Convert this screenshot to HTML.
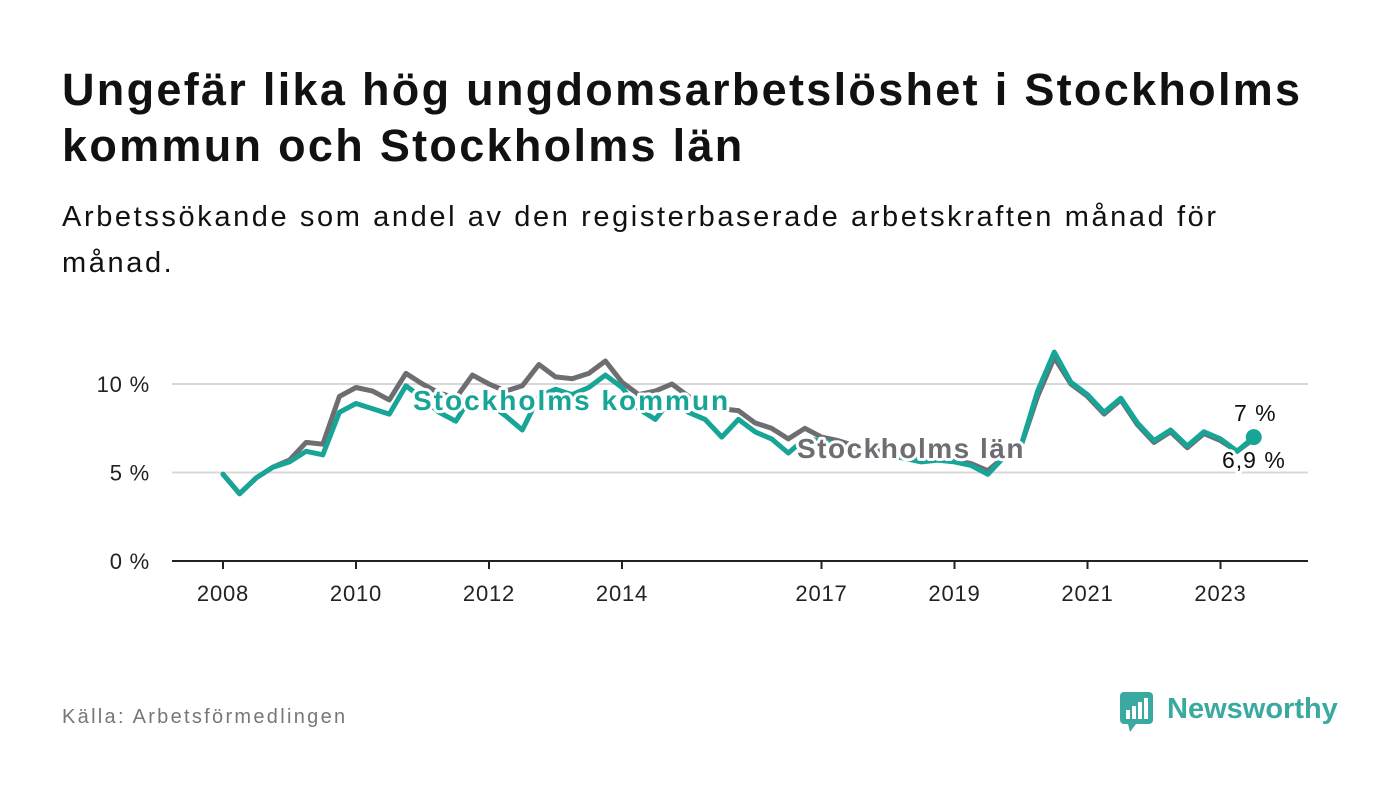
<!DOCTYPE html>
<html><head><meta charset="utf-8"><style>
body{margin:0;background:#fff;width:1400px;height:794px;overflow:hidden;font-family:"Liberation Sans",sans-serif;}
h1{position:absolute;left:62px;top:62px;margin:0;font-size:45px;line-height:56px;font-weight:bold;color:#111;letter-spacing:2.3px;}
p.sub{position:absolute;left:62px;top:194px;margin:0;font-size:29px;line-height:46px;color:#111;letter-spacing:2.6px;}
.src{position:absolute;left:62px;top:706px;font-size:20px;color:#777;letter-spacing:2.3px;}
</style></head><body>
<h1>Ungefär lika hög ungdomsarbetslöshet i Stockholms<br>kommun och Stockholms län</h1>
<p class="sub">Arbetssökande som andel av den registerbaserade arbetskraften månad för<br>månad.</p>
<svg id="chart" width="1400" height="794" style="position:absolute;left:0;top:0"></svg>
<div class="src">Källa: Arbetsförmedlingen</div>
<svg style="position:absolute;left:1118px;top:690px" width="230" height="46">
<rect x="2" y="2" width="33" height="32" rx="4" fill="#3aa9a0"/>
<polygon points="10,34 18,34 12,42" fill="#3aa9a0"/>
<rect x="8" y="20" width="4" height="9" fill="#fff"/><rect x="14" y="16" width="4" height="13" fill="#fff"/><rect x="20" y="12" width="4" height="17" fill="#fff"/><rect x="26" y="8" width="4" height="21" fill="#fff"/>
<text x="49" y="28" font-size="29" font-weight="bold" fill="#3aa9a0" font-family="Liberation Sans, sans-serif">Newsworthy</text>
</svg>
<script>
const years=[2008,2010,2012,2014,2017,2019,2021,2023];
const yTicks=[0,5,10];
const kommun=[4.9,3.8,4.7,5.3, 5.6,6.2,6.0,8.4, 8.9,8.6,8.3,9.9, 9.2,8.4,7.9,9.4, 8.9,8.2,7.4,9.3, 9.7,9.4,9.8,10.5, 9.8,8.6,8.0,9.2, 8.4,8.0,7.0,8.0, 7.3,6.9,6.1,6.9, 6.8,6.6,6.3,6.1, 6.0,5.8,5.6,5.7, 5.6,5.4,4.9,5.9, 6.5,9.6,11.8,10.1, 9.4,8.4,9.2,7.8, 6.8,7.4,6.5,7.3, 6.9,6.2,7.0];
const lan=[4.9,3.8,4.7,5.3, 5.7,6.7,6.6,9.3, 9.8,9.6,9.1,10.6, 10.0,9.5,9.2,10.5, 10.0,9.6,9.9,11.1, 10.4,10.3,10.6,11.3, 10.1,9.4,9.6,10.0, 9.3,8.8,8.6,8.5, 7.8,7.5,6.9,7.5, 7.0,6.8,6.5,6.3, 6.1,5.9,5.7,5.8, 5.7,5.5,5.1,5.9, 6.5,9.3,11.5,10.0, 9.3,8.3,9.1,7.7, 6.7,7.3,6.4,7.2, 6.8,6.2,6.9];
const startYear=2008, step=0.25;
const X=t=>223+(t-2008)*66.5;
const Y=v=>561-v*17.7;
const svg=document.getElementById('chart');
const NS='http://www.w3.org/2000/svg';
function mk(tag,attrs,parent){const e=document.createElementNS(NS,tag);for(const k in attrs)e.setAttribute(k,attrs[k]);(parent||svg).appendChild(e);return e;}
yTicks.forEach(v=>{
 if(v>0){const g=mk('line',{x1:172,x2:1308,y1:Y(v),y2:Y(v),stroke:'#d8d8d8','stroke-width':2});
 
 }
 const t=mk('text',{x:150,y:Y(v)+8,'text-anchor':'end','font-size':22,fill:'#222','letter-spacing':0.8});t.textContent=v+' %';
 
 
});
const ax=mk('line',{x1:172,x2:1308,y1:561,y2:561,stroke:'#222','stroke-width':2});


years.forEach(y=>{
 const tk=mk('line',{x1:X(y),x2:X(y),y1:561,y2:569,stroke:'#222','stroke-width':2});
 
 
 const t=mk('text',{x:X(y),y:601,'text-anchor':'middle','font-size':22,fill:'#222','letter-spacing':0.8});t.textContent=y;
 
 
});
function line(data,color,name){
 const d=data.map((v,i)=>(i?'L':'M')+X(startYear+i*step).toFixed(1)+','+Y(v).toFixed(1)).join('');
 const p=mk('path',{d:d,fill:'none',stroke:color,'stroke-width':5,'stroke-linejoin':'round','stroke-linecap':'round'});
 
 
}
line(lan,'#6e6d72','line-stockholms-lan');
line(kommun,'#16a597','line-stockholms-kommun');
const li=kommun.length-1, lx=X(startYear+li*step);
const dot=mk('circle',{cx:lx,cy:Y(kommun[li]),r:8,fill:'#16a597'});


function lbl(x,y,txt,col,sz,w,ls,name){
 const t=mk('text',{x:x,y:y,'font-size':sz,'font-weight':w,fill:col,stroke:'#fff','stroke-width':6,'paint-order':'stroke','stroke-linejoin':'round','letter-spacing':ls});
 t.textContent=txt;
 
 
}
lbl(413,410,'Stockholms kommun','#16a597',28,'bold',2,'label-stockholms-kommun');
lbl(797,458,'Stockholms län','#6e6d72',28,'bold',1.5,'label-stockholms-lan');
lbl(1234,421,'7 %','#111',23,'normal',1,'end-value-kommun');
lbl(1222,468,'6,9 %','#111',23,'normal',1,'end-value-lan');
</script>
</body></html>
